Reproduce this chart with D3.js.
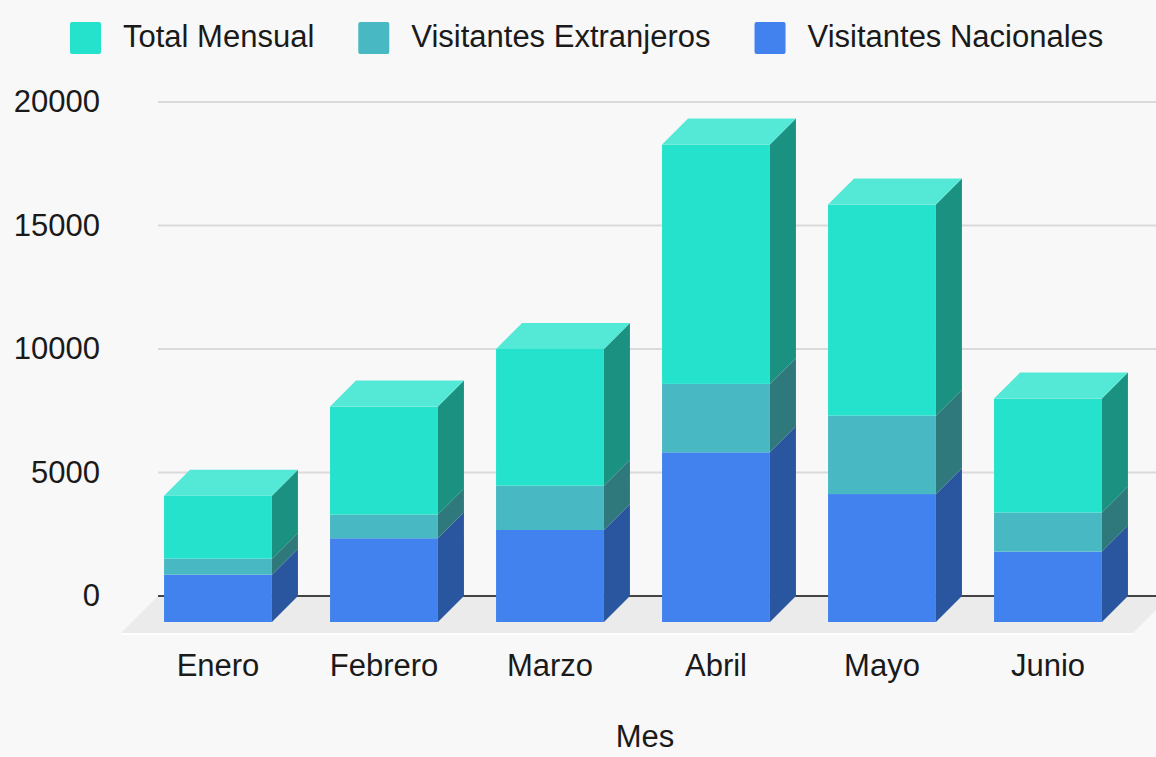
<!DOCTYPE html>
<html>

<head>
    <meta charset="utf-8">
    <style>
        body {
            margin: 0;
            background: #f8f8f8;
        }

        svg {
            display: block;
            font-family: Arial, 'Liberation Sans', sans-serif;
        }

        .y .domain,
        .x .domain {
            display: none;
        }

        .y .tick text {
            font-size: 31px;
            fill: #1a1a1a;
        }
    </style>
</head>

<body>
    <svg width="1156" height="757"></svg>
</body>

<script src="https://d3js.org/d3.v7.min.js"></script>

<script>
    // data
    let months = ["Enero", "Febrero", "Marzo", "Abril", "Mayo", "Junio"]
    let nacionales = [1915, 3390, 3725, 6870, 5180, 2850]
    let extranjeros = [650, 960, 1795, 2770, 3175, 1580]
    let totalMensual = [2550, 4370, 5535, 9690, 8545, 4615]
    let yTicks = [0, 5000, 10000, 15000, 20000]

    let seriesNames = ["Total Mensual", "Visitantes Extranjeros", "Visitantes Nacionales"]
    let seriesKeys = ["nac", "ext", "tot"] // stacking order, bottom first

    let colors = {
        tot: { front: "#24e2cb", side: "#1b9281", top: "#54e8d6" },
        ext: { front: "#48b8c2", side: "#2f787c", top: "#6fcbd3" },
        nac: { front: "#4282ee", side: "#2a56a0", top: "#6a9ef2" }
    }

    let svg = d3.select("svg")

    let depth = 26
    let fontSize = "31px"
    let margin = { left: 158, right: 0, top: 102, bottom: 161 }

    // y scale on the back wall
    let y = d3.scaleLinear()
        .domain([0, 20000])
        .range([757 - margin.bottom, margin.top])

    // x band on the front plane
    let x = d3.scaleBand()
        .domain(months)
        .range([135, 1131])
        .paddingInner(0.35)
        .paddingOuter(0.175)

    let table = months.map((m, i) => ({ month: m, nac: nacionales[i], ext: extranjeros[i], tot: totalMensual[i] }))
    let stacked = d3.stack().keys(seriesKeys)(table)

    // floor
    let y0 = y(0)
    let floorDepth = 37
    svg.append("polygon")
        .attr("points", [
            [margin.left, y0], [1170, y0],
            [1170 - floorDepth, y0 + floorDepth], [margin.left - floorDepth, y0 + floorDepth]
        ].map(p => p.join(",")).join(" "))
        .style("fill", "#ebebeb")

    svg.append("line")
        .attr("x1", margin.left - floorDepth)
        .attr("x2", 1170 - floorDepth)
        .attr("y1", y0 + floorDepth + 1)
        .attr("y2", y0 + floorDepth + 1)
        .style("stroke", "#ffffff")
        .style("stroke-width", "2px")

    // gridlines
    svg.append("g")
        .selectAll("line")
        .data(yTicks.filter(d => d > 0))
        .join("line")
        .attr("x1", margin.left)
        .attr("x2", 1156)
        .attr("y1", d => y(d))
        .attr("y2", d => y(d))
        .style("stroke", "#dadada")
        .style("stroke-width", "2px")

    // zero line
    svg.append("line")
        .attr("x1", margin.left)
        .attr("x2", 1156)
        .attr("y1", y0)
        .attr("y2", y0)
        .style("stroke", "#444")
        .style("stroke-width", "2px")

    // y axis labels
    svg.append("g")
        .attr("class", "y axis")
        .attr("transform", "translate(100,0)")
        .call(d3.axisLeft(y).tickValues(yTicks).tickSize(0).tickPadding(0).tickFormat(d3.format("d")))

    // bars
    let bw = x.bandwidth()
    let bars = svg.append("g")

    stacked.forEach(function (layer, li) {
        let key = layer.key
        let isTop = li == stacked.length - 1
        let g = bars.append("g").attr("class", "layer " + key)

        // side face
        g.selectAll(".side")
            .data(layer)
            .join("polygon")
            .attr("class", "side")
            .attr("points", d => {
                let xr = x(d.data.month) + bw
                let yb = y(d[0]) + depth
                let yt = y(d[1]) + depth
                return [[xr, yb], [xr + depth, yb - depth], [xr + depth, yt - depth], [xr, yt]].map(p => p.join(",")).join(" ")
            })
            .style("fill", colors[key].side)

        // front face
        g.selectAll(".front")
            .data(layer)
            .join("rect")
            .attr("class", "front")
            .attr("x", d => x(d.data.month))
            .attr("y", d => y(d[1]) + depth)
            .attr("width", bw)
            .attr("height", d => y(d[0]) - y(d[1]))
            .style("fill", colors[key].front)

        // top face only for the last segment
        if (isTop) {
            g.selectAll(".top")
                .data(layer)
                .join("polygon")
                .attr("class", "top")
                .attr("points", d => {
                    let xl = x(d.data.month)
                    let yt = y(d[1]) + depth
                    return [[xl, yt], [xl + bw, yt], [xl + bw + depth, yt - depth], [xl + depth, yt - depth]].map(p => p.join(",")).join(" ")
                })
                .style("fill", colors[key].top)
        }
    })

    // x labels
    svg.append("g")
        .selectAll("text")
        .data(months)
        .join("text")
        .attr("x", d => x(d) + bw / 2)
        .attr("y", 676)
        .attr("text-anchor", "middle")
        .style("font-size", fontSize)
        .style("fill", "#1a1a1a")
        .text(d => d)

    // axis title
    svg.append("text")
        .attr("x", 645)
        .attr("y", 747)
        .attr("text-anchor", "middle")
        .style("font-size", fontSize)
        .style("fill", "#1a1a1a")
        .text("Mes")

    // legend
    let legendKeys = ["tot", "ext", "nac"]
    let legend = svg.append("g")
    let lx = 70
    seriesNames.forEach(function (name, i) {
        legend.append("rect")
            .attr("x", lx)
            .attr("y", 22)
            .attr("width", 31)
            .attr("height", 32)
            .attr("rx", 2)
            .style("fill", colors[legendKeys[i]].front)
        let t = legend.append("text")
            .attr("x", lx + 53)
            .attr("y", 47)
            .style("font-size", fontSize)
            .style("fill", "#1a1a1a")
            .text(name)
        lx = lx + 53 + t.node().getComputedTextLength() + 44
    })
</script>

</html>
